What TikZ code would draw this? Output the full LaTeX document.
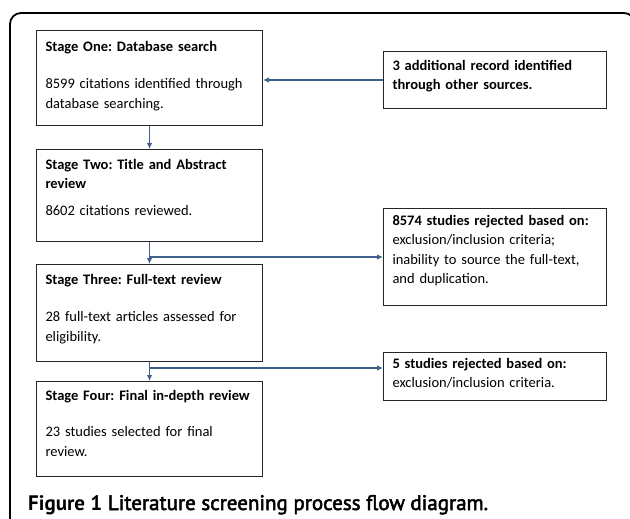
\documentclass[tikz,border=0pt]{standalone}
\usepackage{fontspec}
\setmainfont{Carlito}
\newfontfamily\capfont{PT Sans}
\newfontface\capsemi{PT Sans}[FakeBold=2.5]
\usetikzlibrary{arrows.meta}
\definecolor{flowblue}{HTML}{3E5F8A}
\frenchspacing
\hyphenpenalty=10000
\begin{document}
\begin{tikzpicture}[x=1pt, y=-1pt,
  stagebox/.style={draw=black!85, line width=1pt, anchor=north west, align=left,
    inner xsep=9pt, inner ysep=0pt, font=\fontsize{14.5}{19.3}\selectfont},
  leftbox/.style={stagebox, text width=208pt},
  rightbox/.style={stagebox, text width=205pt},
  flow/.style={draw=flowblue, line width=1.1pt, -{Latex[length=6pt,width=5.5pt]}}]
\useasboundingbox (0,0) rectangle (630,519);
\begin{scope}
\clip (0,0) rectangle (630,519);
\draw[line width=1.8pt, rounded corners=11pt] (10,13) rectangle (635,545);
\end{scope}
% stages
\node[leftbox, text height=21pt, text depth=74pt] (one) at (36,30)
  {\textbf{Stage One: Database search}\\[18pt]8599 citations identified through\\database searching.};
\node[leftbox, text height=20pt, text depth=72pt] (two) at (36,149)
  {\textbf{Stage Two: Title and Abstract}\\\textbf{review}\\[7pt]8602 citations reviewed.};
\node[leftbox, text height=20pt, text depth=77pt] (three) at (36,264)
  {\textbf{Stage Three: Full-text review}\\[18pt]28 full-text articles assessed for\\eligibility.};
\node[leftbox, text height=19pt, text depth=76pt] (four) at (36,381)
  {\textbf{Stage Four: Final in-depth review}\\[17pt]23 studies selected for final\\review.};
% side boxes
\node[rightbox, text height=19pt, text depth=38pt] (add) at (383,51)
  {\textbf{3 additional record identified}\\\textbf{through other sources.}};
\node[rightbox, text height=17pt, text depth=80pt] (rejA) at (383,208)
  {\textbf{8574 studies rejected based on:}\\exclusion/inclusion criteria;\\inability to source the full-text,\\and duplication.};
\node[rightbox, text height=16pt, text depth=32pt] (rejB) at (383,352)
  {\textbf{5 studies rejected based on:}\\exclusion/inclusion criteria.};
% connectors
\coordinate (j1) at (two.south |- rejA.west);
\coordinate (j2) at (149,368);
\draw[flow] (one) -- (two);
\draw[flow] (two) -- (three);
\draw[flow] (three) -- (four);
\draw[flow] (add.west) -- (add.west -| one.east);
\draw[flow] (j1) -- (rejA.west);
\draw[flow] (j2) -- (j2 -| rejB.west);
% caption
\node[anchor=base west, inner sep=0pt, font=\capsemi\fontsize{21}{24}\selectfont] (cap) at (28,510)
  {{\capfont\bfseries Figure 1} Literature screening process flow diagram.};
\end{tikzpicture}
\end{document}
